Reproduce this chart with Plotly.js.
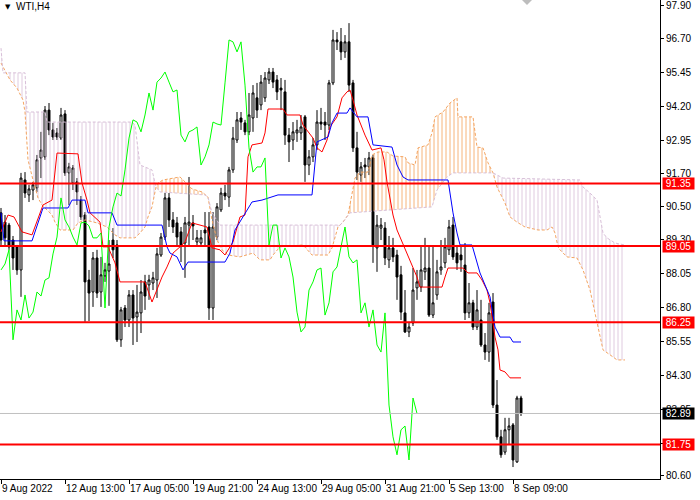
<!DOCTYPE html>
<html><head><meta charset="utf-8">
<script src="https://cdn.plot.ly/plotly-3.0.1.min.js"></script>
<style>html,body{margin:0;padding:0;background:#fff;}#chart{width:700px;height:500px;}</style>
</head><body><div id="chart"></div>
<script>
// ---- data (WTI, H4) ----
const open = [90.27,89.93,89.82,89.27,89.02,88.17,91.48,90.93,91.11,91.19,
92.29,92.33,94.05,93.32,93.21,93.02,93.91,91.74,91.37,91.41,
90.74,90.19,87.80,87.36,88.61,87.36,87.95,88.13,89.27,89.09,
85.60,86.77,86.33,87.25,86.44,86.59,87.73,87.62,87.69,87.80,
88.72,89.38,90.82,90.01,89.90,89.57,89.16,89.82,89.90,89.20,
89.16,89.64,89.75,86.77,89.38,90.38,91.00,90.85,91.85,92.95,
93.76,93.58,93.25,93.76,94.50,94.24,94.50,95.16,95.45,95.16,
94.86,94.72,93.13,92.95,93.21,93.21,93.80,92.03,92.33,92.77,
93.61,93.61,93.50,95.05,96.63,96.56,96.19,96.56,95.05,92.66,
91.66,92.03,91.96,92.29,88.98,89.71,89.71,88.54,88.98,88.72,
87.99,86.59,85.89,86.22,87.51,87.54,88.10,88.24,86.51,87.25,
88.17,88.43,88.91,89.82,88.79,88.72,88.35,86.59,86.96,86.07,
86.33,85.41,85.15,86.99,83.20,82.03,81.47,82.29,82.47,81.11,
83.46];
const high = [90.45,90.19,89.90,89.42,89.09,91.74,91.77,91.30,91.41,92.40,
93.25,94.20,94.31,93.58,93.39,94.13,94.05,92.11,92.03,91.55,
90.89,90.30,88.17,88.83,88.91,88.65,88.43,89.27,89.71,89.27,
86.81,86.88,87.43,87.43,87.62,87.80,87.99,87.99,88.10,88.98,
89.53,91.00,91.00,90.30,90.12,89.75,90.12,91.59,90.19,89.64,
89.64,90.30,90.30,90.30,90.63,91.19,91.30,91.96,93.43,93.98,
93.98,93.69,94.68,94.97,95.05,95.34,95.45,95.60,95.60,95.34,
95.23,95.16,93.39,93.61,93.69,93.87,93.87,92.58,93.02,94.05,
94.13,93.98,95.16,97.00,96.92,97.07,96.81,97.25,95.16,93.25,
92.14,92.29,92.51,92.40,90.19,90.08,89.93,89.42,89.35,88.91,
88.32,87.43,86.26,88.24,88.17,89.02,89.35,89.02,89.02,88.54,
89.27,89.35,90.01,90.12,89.09,89.09,89.16,87.69,87.07,87.43,
87.07,85.85,86.96,87.32,84.12,82.29,82.73,82.73,82.54,83.54,
83.54];
const low = [89.09,89.05,88.91,88.17,87.99,87.18,90.82,90.67,90.74,91.04,
91.55,92.22,93.13,92.95,92.95,92.95,91.63,90.56,91.11,90.56,
90.01,86.26,86.29,86.81,87.14,86.81,87.73,86.85,88.61,85.52,
85.34,86.07,86.07,85.41,85.52,85.85,86.70,87.07,87.43,87.14,
88.65,89.27,89.75,89.53,89.02,88.46,87.88,89.02,89.27,89.02,
89.02,89.02,86.33,86.33,89.27,90.30,90.74,90.49,91.74,92.84,
93.32,93.13,93.13,93.25,93.76,94.05,94.35,95.01,94.86,94.42,
94.05,92.77,92.14,92.58,92.88,92.95,91.41,91.66,92.14,92.58,
93.32,92.95,93.32,94.97,96.26,95.89,95.97,94.72,92.51,91.48,
91.41,91.55,91.66,88.43,88.10,89.27,88.35,88.24,88.46,87.07,
86.33,85.85,85.70,86.11,87.07,87.36,87.80,86.44,86.40,87.07,
87.99,88.24,88.72,88.54,88.17,88.10,86.33,86.40,85.96,85.96,
85.34,84.86,84.79,83.09,81.92,81.26,81.37,81.73,80.92,81.07,
82.80];
const close = [89.27,89.35,89.02,88.61,88.17,91.55,91.00,91.15,91.30,92.22,
92.58,94.05,93.32,93.06,93.06,93.87,91.74,91.96,91.92,91.04,
90.12,87.73,87.32,88.61,87.32,87.99,88.17,88.39,88.91,85.60,
86.70,86.33,87.25,86.40,86.62,87.36,87.21,87.80,87.88,88.76,
89.38,90.82,90.01,89.75,89.38,89.09,89.90,89.93,89.79,89.35,
89.35,89.53,86.77,89.75,90.49,91.00,90.89,91.85,93.02,93.69,
93.61,93.25,93.87,94.68,94.05,95.08,95.23,95.45,95.08,94.72,
94.79,93.13,92.88,93.25,93.32,93.43,92.03,92.33,92.77,93.61,
93.54,93.50,95.05,96.63,96.56,96.19,96.56,94.97,92.66,91.77,
91.96,91.96,92.29,89.09,89.82,89.82,88.61,88.98,88.65,87.91,
86.62,85.89,86.07,87.43,87.73,88.17,88.24,86.51,86.96,88.10,
88.28,89.02,89.75,88.65,88.43,88.54,86.59,86.96,86.07,86.70,
85.41,85.15,86.59,83.20,82.03,81.37,82.29,82.43,81.18,83.46,
82.89];

// Ichimoku lines, vertices (x in bars)
const tenkanBar = [0,1.75,3.25,5.25,7.75,10.5,12.75,14,19.25,20.25,21.5,22.25,24.75,25.5,26.75,28.5,29.75,36,37.75,40.25,41.5,43,44.75,46,47.75,51.5,52.75,54.75,56,58,59.75,61,61.75,62.75,65.25,66,66.75,70.5,71.5,74.75,75.5,76.75,78,79,80.25,81.5,82.25,84,85.25,86.5,87.25,88,89,91,92.75,95,95.75,96.5,97.25,98,99,99.75,100.5,101.5,102.25,103,104,104.75,110.25,111,111.75,115.5,116.75,119,120.25,121.5,122.25,123.5,124.25,124.75,126,127.25,130];
const tenkanVal = [89.57,90.19,90.12,89.57,89.46,90.56,90.74,92.47,92.44,91.37,90.74,90.27,89.93,89.02,89.02,88.43,87.73,87.73,86.99,87.91,88.28,88.79,89.02,89.20,89.90,89.75,88.98,88.91,88.72,89.20,90.12,90.19,92.33,92.77,92.84,93.21,94.09,94.09,93.87,93.87,93.50,93.25,93.02,92.66,92.51,92.95,93.43,93.80,94.50,94.72,94.79,94.42,93.87,93.13,92.58,92.66,92.22,91.41,90.74,90.19,89.64,89.38,89.16,88.79,88.54,88.28,87.91,87.54,87.54,87.91,88.24,88.24,88.06,88.06,87.80,87.43,86.96,85.70,85.23,84.49,84.42,84.20,84.20];
const kijunBar = [0,0.75,7.75,10.5,16.75,17.75,21,21.75,27.75,29,40.25,41.5,42.25,44,45.5,46.75,56,57.25,58.5,60.5,62.75,65.25,69.25,77.75,79,81.75,82.75,84,86.5,87.25,89,91.75,93,97.75,99,100.5,101.75,111.75,113,114,114.75,117.75,119.75,122.25,123.5,124.75,127.25,128,130];
const kijunVal = [90.27,89.24,89.24,90.45,90.45,90.74,90.74,90.27,90.27,89.82,89.82,89.02,88.79,88.65,88.17,88.46,88.46,88.79,89.64,90.12,90.67,90.74,90.93,90.93,92.88,93.06,93.58,93.94,93.94,94.13,93.80,93.80,92.77,92.69,92.03,91.59,91.48,91.48,90.27,89.53,89.09,89.09,88.06,87.18,86.07,85.70,85.70,85.52,85.52];
const spanABar = [0,2.25,4,5.5,6,6.75,8,9.25,10.25,12.75,13.5,14.75,18,19.25,21,24,26.5,28.5,29.75,33.5,34.75,36,36.75,37.75,38.75,39.25,40.5,44.75,46,47.75,50.25,51,51.75,52.75,54,55.25,56.75,59.75,63,64.75,67.25,68,69.75,75.5,77.75,81.75,82.75,84.25,85.5,86.75,87.75,88.5,89.75,91.75,92.75,94.25,96.5,98,101,101.75,103.5,104.25,106.75,107.75,108.5,110.5,112.25,114,114.25,118,119,120.5,121.75,123,124,124.75,126,127.25,129,131,134.25,136.5,137.75,138.5,139.25,139.75,141.5,144,145.5,147.25,148.5,149.25,150.5,153,154,156];
const spanAVal = [95.78,95.16,94.86,94.42,93.98,92.22,91.48,90.82,90.56,90.19,89.93,89.64,89.64,89.90,90.01,89.90,89.75,89.46,89.35,89.35,89.53,89.75,90.12,90.49,91.22,91.37,91.48,91.59,91.41,91.15,91.04,90.96,90.85,90.01,89.27,88.91,88.72,88.65,88.79,88.54,88.54,88.72,89.02,89.09,88.72,88.72,88.98,89.75,89.93,90.19,91.04,91.55,91.77,91.77,92.40,92.51,92.51,92.36,92.33,92.11,92.03,92.66,92.77,93.21,93.80,93.98,94.31,94.50,93.80,93.80,92.69,92.66,92.11,91.74,91.22,91.00,90.63,90.12,89.93,89.75,89.64,89.64,89.75,89.53,89.02,88.91,88.65,88.61,88.17,87.43,86.59,86.07,85.23,84.97,84.86,84.86];
const spanBBar = [0,0.5,6,6.5,11,11.5,32.75,33.5,34.75,37.75,38.75,39.75,51,51.75,52.75,54.75,84.75,85.5,87.25,107.75,109,111.5,113,123,125.5,144.75,145.5,147.25,149,150.5,151.5,153.5,156];
const spanBVal = [96.33,95.42,95.42,93.98,93.98,93.61,93.61,93.50,92.03,91.85,91.22,91.04,90.93,90.85,90.27,89.82,89.82,89.93,90.27,90.49,91.11,91.59,91.74,91.74,91.55,91.48,91.22,91.00,90.74,89.53,89.35,89.16,89.09];
const cloudCross = [38.75, 51.75, 85.5, 123];
const chikouShift = 26;

const levels = [91.35, 89.05, 86.25, 81.75];
const lastPrice = 82.89;
const yTickValues = [97.90,96.70,95.45,94.20,92.95,91.70,90.50,89.30,88.05,86.80,85.55,84.30,83.05,81.80,80.60];
const yTickLabels = ['97.90','96.70','95.45','94.20','92.95','91.70','90.50','89.30','88.05','86.80','85.55','84.30','83.05','','80.60'];
const xTickBars = [0,16,32,48,64,80,96,112,128];
const xTickLabels = ['9 Aug 2022','12 Aug 13:00','17 Aug 05:00','19 Aug 21:00','24 Aug 13:00','29 Aug 05:00','31 Aug 21:00','5 Sep 13:00','8 Sep 09:00'];

// ---- styles ----
const SANDY = '#F4A460', THISTLE = '#D8BFD8';
const FONT = 'Liberation Sans, Arial, sans-serif';
const barIdx = close.map((_, i) => i);
const traces = [];

function pick(xs, ys, a, b) {
  const px = [], py = [];
  xs.forEach((x, k) => { if (x >= a - 1e-9 && x <= b + 1e-9) { px.push(x); py.push(ys[k]); } });
  return {x: px, y: py};
}
const mean = arr => arr.reduce((p, c) => p + c, 0) / arr.length;
const bounds = [spanABar[0]].concat(cloudCross, [spanABar[spanABar.length - 1]]);
for (let s = 0; s < bounds.length - 1; s++) {
  const a = pick(spanABar, spanAVal, bounds[s], bounds[s + 1]);
  const b = pick(spanBBar, spanBVal, bounds[s], bounds[s + 1]);
  const col = mean(a.y) > mean(b.y) ? SANDY : THISTLE;
  traces.push({type: 'scatter', mode: 'lines', x: b.x, y: b.y, line: {width: 0}, hoverinfo: 'skip', showlegend: false});
  traces.push({type: 'scatter', mode: 'lines', x: a.x, y: a.y, line: {width: 0}, fill: 'tonexty',
    fillcolor: 'rgba(0,0,0,0)',
    fillpattern: {shape: '|', fgcolor: col, bgcolor: 'rgba(255,255,255,0)', size: 4, solidity: 0.3, fgopacity: 0.7},
    hoverinfo: 'skip', showlegend: false});
}
traces.push({type: 'scatter', mode: 'lines', x: spanABar, y: spanAVal, line: {color: SANDY, width: 1, dash: '3px,2px'}, hoverinfo: 'skip', showlegend: false});
traces.push({type: 'scatter', mode: 'lines', x: spanBBar, y: spanBVal, line: {color: THISTLE, width: 1, dash: '3px,2px'}, hoverinfo: 'skip', showlegend: false});

traces.push({type: 'candlestick', x: barIdx, open: open, high: high, low: low, close: close,
  increasing: {line: {color: '#000', width: 1}, fillcolor: '#FFFFFF'},
  decreasing: {line: {color: '#000', width: 1}, fillcolor: '#000000'},
  whiskerwidth: 0, hoverinfo: 'skip', showlegend: false});

traces.push({type: 'scatter', mode: 'lines', x: tenkanBar, y: tenkanVal, line: {color: '#FF0000', width: 1}, hoverinfo: 'skip', showlegend: false});
traces.push({type: 'scatter', mode: 'lines', x: kijunBar, y: kijunVal, line: {color: '#0000FF', width: 1}, hoverinfo: 'skip', showlegend: false});
traces.push({type: 'scatter', mode: 'lines',
  x: close.slice(chikouShift).map((_, k) => k), y: close.slice(chikouShift),
  line: {color: '#00FF00', width: 1}, hoverinfo: 'skip', showlegend: false});

const shapes = [];
shapes.push({type: 'line', xref: 'paper', x0: 0, x1: 1, yref: 'y', y0: lastPrice, y1: lastPrice, line: {color: '#C0C0C0', width: 1}, layer: 'above'});
levels.forEach(lv => shapes.push({type: 'line', xref: 'paper', x0: 0, x1: 1, yref: 'y', y0: lv, y1: lv, line: {color: '#FF0000', width: 2}, layer: 'above'}));
shapes.push({type: 'path', xref: 'paper', yref: 'paper', path: 'M 0.7909 1 L 0.8061 1 L 0.7985 0.9896 Z', fillcolor: '#BDBDBD', line: {width: 0}, layer: 'above'});

const annotations = [];
levels.forEach(lv => annotations.push({xref: 'paper', x: 1, xanchor: 'left', xshift: 2, yref: 'y', y: lv, yanchor: 'middle',
  text: lv.toFixed(2), showarrow: false, bgcolor: '#FF0000', font: {family: FONT, size: 10, color: '#FFFFFF'},
  width: 31, height: 11, borderpad: 0, align: 'center'}));
annotations.push({xref: 'paper', x: 1, xanchor: 'left', xshift: 2, yref: 'y', y: lastPrice, yanchor: 'middle',
  text: lastPrice.toFixed(2), showarrow: false, bgcolor: '#000000', font: {family: FONT, size: 10, color: '#FFFFFF'},
  width: 31, height: 11, borderpad: 0, align: 'center'});
annotations.push({xref: 'paper', x: 0, xanchor: 'left', xshift: 3, yref: 'paper', y: 1, yanchor: 'top', yshift: -1,
  text: '▼', showarrow: false, font: {family: 'DejaVu Sans', size: 7, color: '#000'}});
annotations.push({xref: 'paper', x: 0, xanchor: 'left', xshift: 14, yref: 'paper', y: 1, yanchor: 'top', yshift: 1,
  text: 'WTI,H4', showarrow: false, font: {family: FONT, size: 10, color: '#000'}});

const layout = {
  width: 700, height: 500,
  margin: {l: 0, r: 40, t: 0, b: 21, pad: 0},
  paper_bgcolor: '#FFFFFF', plot_bgcolor: '#FFFFFF',
  showlegend: false, hovermode: false,
  xaxis: {range: [-0.25, 164.75], showgrid: false, zeroline: false, showline: true, linecolor: '#000', linewidth: 1,
    ticks: 'outside', ticklen: 4, tickcolor: '#000', tickvals: xTickBars, ticktext: xTickLabels, tickangle: 0,
    ticklabelposition: 'outside right', ticklabeloverflow: 'allow', tickfont: {family: FONT, size: 10, color: '#000'},
    rangeslider: {visible: false}, fixedrange: true},
  yaxis: {range: [80.48, 98.10], side: 'right', showgrid: false, zeroline: false, showline: true, linecolor: '#000', linewidth: 1,
    ticks: 'outside', ticklen: 3, tickcolor: '#000', tickvals: yTickValues, ticktext: yTickLabels, ticklabeloverflow: 'allow',
    tickfont: {family: FONT, size: 10, color: '#000'}, fixedrange: true},
  shapes: shapes, annotations: annotations
};
Plotly.newPlot('chart', traces, layout, {staticPlot: true, displayModeBar: false});
</script></body></html>
